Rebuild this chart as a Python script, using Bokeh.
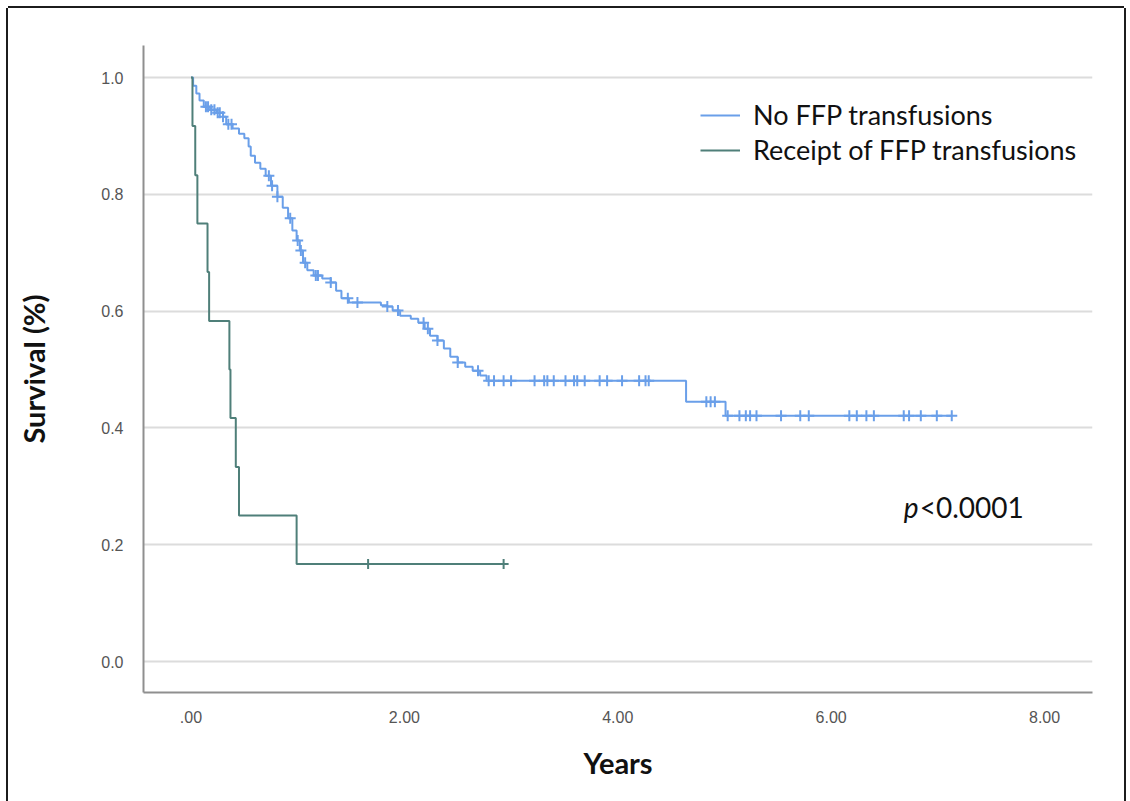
import numpy as np
from bokeh.plotting import figure
from bokeh.models import Range1d, FixedTicker, Legend, LegendItem, Label
from bokeh.embed import file_html
from bokeh.resources import INLINE

# ---------------- data ----------------
series_names = ["No FFP transfusions", "Receipt of FFP transfusions"]

no_ffp_time = [0.0, 0.02, 0.05, 0.08, 0.12, 0.18, 0.24, 0.30, 0.33, 0.39, 0.45, 0.50,
               0.54, 0.56, 0.60, 0.65, 0.70, 0.75, 0.81, 0.86, 0.91, 0.95, 0.99, 1.02,
               1.05, 1.09, 1.15, 1.23, 1.31, 1.36, 1.41, 1.48, 1.78, 1.84, 1.89, 1.96,
               2.06, 2.13, 2.19, 2.24, 2.31, 2.37, 2.43, 2.50, 2.57, 2.64, 2.71, 2.77,
               4.64, 5.01, 7.13]
no_ffp_surv = [1.0, 0.986, 0.973, 0.961, 0.950, 0.945, 0.940, 0.933, 0.920, 0.913, 0.904, 0.896,
               0.882, 0.866, 0.854, 0.844, 0.832, 0.815, 0.796, 0.777, 0.759, 0.738, 0.721, 0.704,
               0.683, 0.670, 0.661, 0.656, 0.649, 0.635, 0.622, 0.615, 0.610, 0.608, 0.601, 0.592,
               0.587, 0.580, 0.570, 0.558, 0.550, 0.536, 0.522, 0.512, 0.505, 0.498, 0.490, 0.481,
               0.445, 0.421, 0.421]
no_ffp_censor_time = [0.14, 0.16, 0.19, 0.22, 0.25, 0.27, 0.30, 0.35, 0.38, 0.73, 0.76, 0.81,
                      0.93, 1.00, 1.03, 1.07, 1.17, 1.19, 1.31, 1.47, 1.56, 1.84, 1.94, 2.18,
                      2.22, 2.31, 2.50, 2.69,
                      2.79, 2.84, 2.93, 3.00, 3.22, 3.31, 3.34, 3.40, 3.51, 3.59, 3.62, 3.69,
                      3.83, 3.90, 4.04, 4.20, 4.26, 4.29,
                      4.83, 4.87, 4.91,
                      5.03, 5.14, 5.20, 5.24, 5.30, 5.53, 5.71, 5.79, 6.17, 6.24, 6.33, 6.40,
                      6.68, 6.73, 6.84, 6.99, 7.13]

ffp_time = [0.0, 0.014, 0.04, 0.06, 0.155, 0.17, 0.36, 0.37, 0.42, 0.45, 0.99, 2.93]
ffp_surv = [1.0, 0.917, 0.833, 0.750, 0.667, 0.583, 0.500, 0.417, 0.333, 0.250, 0.167, 0.167]
ffp_censor_time = [1.66, 2.93]

x_ticks = [0, 2, 4, 6, 8]
x_tick_labels = [".00", "2.00", "4.00", "6.00", "8.00"]
y_ticks = [0.0, 0.2, 0.4, 0.6, 0.8, 1.0]
y_tick_labels = ["0.0", "0.2", "0.4", "0.6", "0.8", "1.0"]
p_value_symbol = "p"
p_value_text = "<0.0001"

BLUE = "#6a9fe9"
GREEN = "#4f7f79"


def surv_at(times, survs, t):
    idx = np.searchsorted(np.array(times), np.array(t), side="right") - 1
    return np.array(survs)[idx]


p = figure(width=1116, height=793, output_backend="svg", toolbar_location=None,
           x_range=Range1d(-0.445, 8.449), y_range=Range1d(-0.053, 1.055),
           min_border_left=135, min_border_right=32, min_border_top=37, min_border_bottom=109)
p.styles = {"margin-left": "8px", "margin-top": "8px",
            "box-shadow": "-2px 0 0 0 #1c1c1c, 2px 0 0 0 #1c1c1c, 0 -2px 0 0 #1c1c1c"}
p.outline_line_color = None
p.background_fill_color = "white"
p.border_fill_color = "white"

# grid
p.xgrid.grid_line_color = None
p.ygrid.grid_line_color = "#dcdcdc"
p.ygrid.grid_line_width = 2
p.ygrid.ticker = FixedTicker(ticks=y_ticks)

# axes
for ax in (p.xaxis[0], p.yaxis[0]):
    ax.axis_line_color = "#8f8f8f"
    ax.axis_line_width = 2
    ax.major_tick_line_color = None
    ax.minor_tick_line_color = None
    ax.major_label_text_font = "Liberation Sans"
    ax.major_label_text_font_size = "16px"
    ax.major_label_text_color = "#555555"
    ax.axis_label_text_font = "Lato"
    ax.axis_label_text_font_style = "bold"
    ax.axis_label_text_font_size = "29px"
    ax.axis_label_text_color = "#111111"

p.xaxis.ticker = FixedTicker(ticks=x_ticks)
p.xaxis.major_label_overrides = {t: l for t, l in zip(x_ticks, x_tick_labels)}
p.yaxis.ticker = FixedTicker(ticks=y_ticks)
p.yaxis.major_label_overrides = {t: l for t, l in zip(y_ticks, y_tick_labels)}
p.xaxis.axis_label = "Years"
p.yaxis.axis_label = "Survival (%)"
p.xaxis.major_label_standoff = 12
p.xaxis.axis_label_standoff = 19
p.yaxis.major_label_standoff = 14
p.yaxis.axis_label_standoff = 47

# curves
r_blue = p.step(no_ffp_time, no_ffp_surv, mode="after", line_color=BLUE, line_width=2)
r_green = p.step(ffp_time, ffp_surv, mode="after", line_color=GREEN, line_width=2)

# censor marks
p.scatter(no_ffp_censor_time, surv_at(no_ffp_time, no_ffp_surv, no_ffp_censor_time),
          marker="cross", size=11, line_color=BLUE, line_width=2)
p.scatter(ffp_censor_time, surv_at(ffp_time, ffp_surv, ffp_censor_time),
          marker="cross", size=10, line_color=GREEN, line_width=2)

legend = Legend(items=[LegendItem(label=series_names[0], renderers=[r_blue]),
                       LegendItem(label=series_names[1], renderers=[r_green])],
                location=(557, 525), border_line_color=None, background_fill_alpha=0,
                padding=0, spacing=0, margin=0, glyph_width=40, glyph_height=20,
                label_height=35, label_standoff=13, label_text_font="Lato",
                label_text_font_size="27px", label_text_color="#111111")
p.add_layout(legend)

p.add_layout(Label(x=6.68, y=0.265, text=p_value_symbol, text_font="Lato",
                   text_font_style="italic", text_font_size="28px", text_color="#111111",
                   text_baseline="middle", text_align="left"))
p.add_layout(Label(x=6.83, y=0.265, text=p_value_text, text_font="Lato",
                   text_font_size="28px", text_color="#111111",
                   text_baseline="middle", text_align="left"))

open("out.html", "w").write(file_html(p, INLINE))
